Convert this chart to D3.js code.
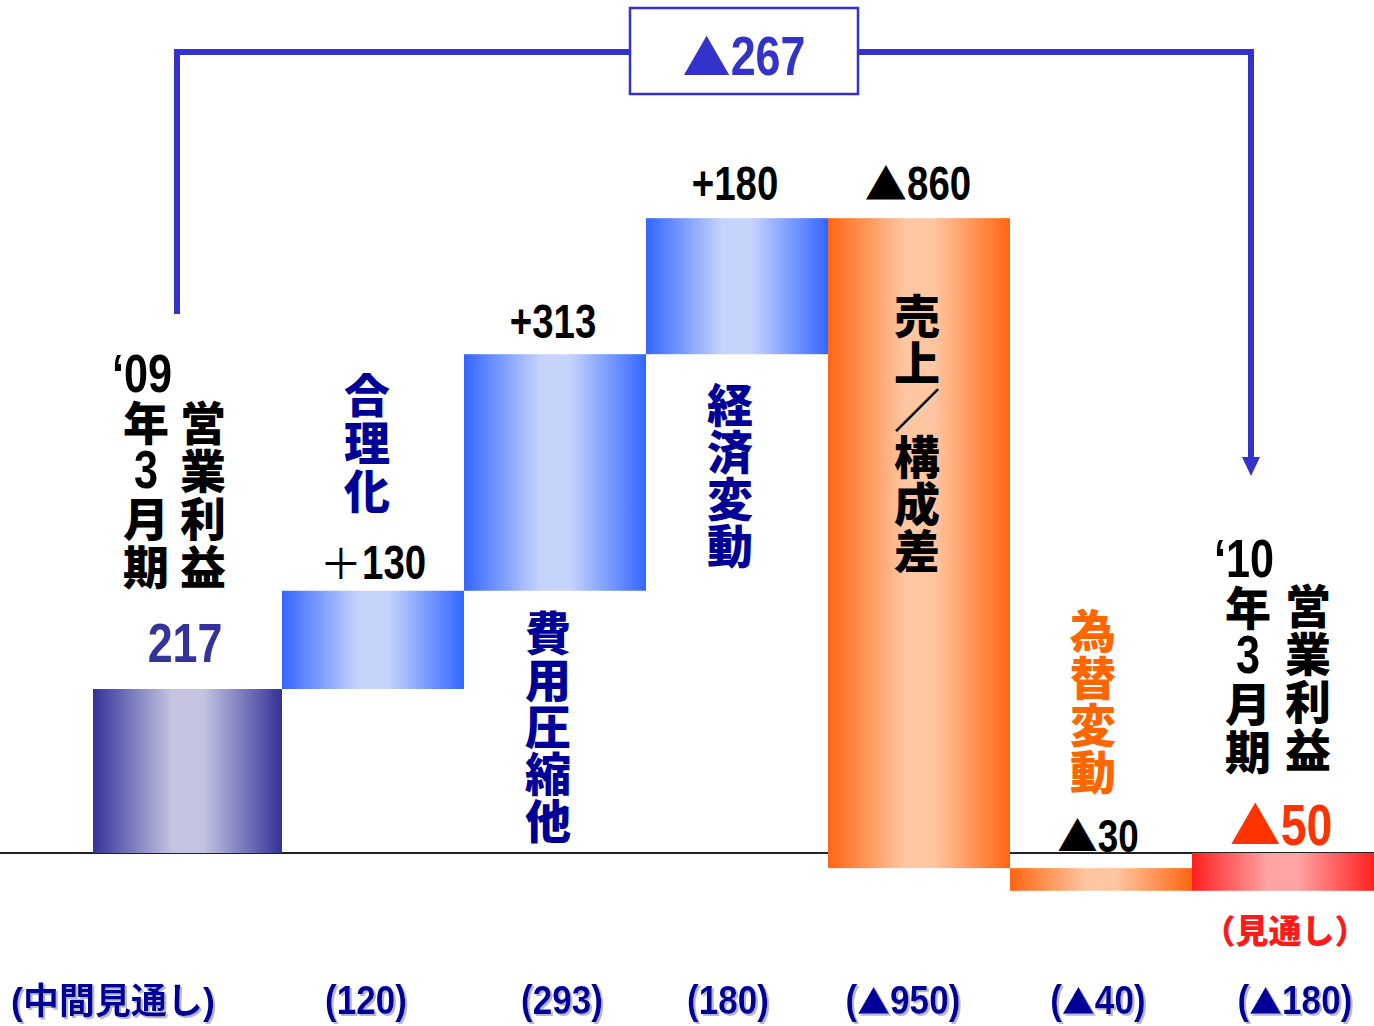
<!DOCTYPE html>
<html>
<head>
<meta charset="utf-8">
<script src="https://cdn.jsdelivr.net/npm/d3@7"></script>
<style>
  html, body { margin: 0; padding: 0; background: #fff; }
  svg { display: block; }
  .num { font-family: 'Liberation Sans', Arial, sans-serif; }
  .jp { font-family: 'Noto Sans CJK JP', sans-serif; font-weight: 900; }
</style>
</head>
<body>
<svg id="chart" width="1374" height="1026"></svg>
<script>
"use strict";

// --- data -------------------------------------------------------------
const categories = ['‘09年3月期営業利益', '合理化', '費用圧縮他', '経済変動', '売上／構成差', '為替変動', '‘10年3月期営業利益'];
const kinds = ['total', 'delta', 'delta', 'delta', 'delta', 'delta', 'total'];
const values = [217, 130, 313, 180, -860, -30, -50];
const valueLabels = ['217', '＋130', '+313', '+180', '▲860', '▲30', '▲50'];
const interimLabels = ['(中間見通し)', '(120)', '(293)', '(180)', '(▲950)', '(▲40)', '(▲180)'];
const changeLabel = '▲267';
const forecastNote = '（見通し）';

// --- layout -----------------------------------------------------------
const W = 1374, H = 1026;
const svg = d3.select('#chart');

const x = d3.scaleBand().domain(d3.range(categories.length)).range([100, 1374]).padding(0);
const y = d3.scaleLinear().domain([0, 217]).range([853, 689]);
const cx = (i) => x(i) + x.bandwidth() / 2;

// running totals for waterfall
let run = 0;
const bars = values.map((v, i) => {
  let from, to;
  if (kinds[i] === 'total') { from = 0; to = v; run = v; }
  else { from = run; to = run + v; run = to; }
  return { i, from, to, v, kind: kinds[i] };
});

// gradients
const defs = svg.append('defs');
const grads = {
  navy: ['#333399', '#c4c4e2'],
  blue: ['#3366ff', '#c6d4fc'],
  orange: ['#ff6611', '#ffc6a2'],
  red: ['#ff1f1f', '#ffa4a4']
};
Object.entries(grads).forEach(([k, c]) => {
  const g = defs.append('linearGradient').attr('id', 'g-' + k).attr('x1', 0).attr('x2', 1).attr('y1', 0).attr('y2', 0);
  g.append('stop').attr('offset', 0).attr('stop-color', c[0]);
  g.append('stop').attr('offset', 0.42).attr('stop-color', c[1]);
  g.append('stop').attr('offset', 0.58).attr('stop-color', c[1]);
  g.append('stop').attr('offset', 1).attr('stop-color', c[0]);
});
defs.append('filter').attr('id', 'shadow')
  .append('feDropShadow')
  .attr('dx', 2).attr('dy', 2).attr('stdDeviation', 0.6)
  .attr('flood-color', '#b8b8cc').attr('flood-opacity', 1);

const fillOf = (d) => {
  if (d.i === 0) return 'url(#g-navy)';
  if (d.kind === 'total') return 'url(#g-red)';
  return d.v >= 0 ? 'url(#g-blue)' : 'url(#g-orange)';
};

// baseline
svg.append('line')
  .attr('x1', 0).attr('x2', W)
  .attr('y1', y(0)).attr('y2', y(0))
  .attr('stroke', '#222').attr('stroke-width', 2);

// bars
svg.append('g').selectAll('rect').data(bars).join('rect')
  .attr('x', (d) => x(d.i) - (d.i === 0 ? 7 : 0))
  .attr('width', (d) => x.bandwidth() + (d.i === 0 ? 7 : 0))
  .attr('y', (d) => y(Math.max(d.from, d.to)))
  .attr('height', (d) => Math.abs(y(d.from) - y(d.to)))
  .attr('fill', fillOf);

// narrow numeric label: latin runs squeezed with textLength, symbols from the CJK font
function numText(parent, str, px, py, size, color, sx, symScale) {
  const t = parent.append('text')
    .attr('class', 'num')
    .attr('x', px).attr('y', py)
    .attr('text-anchor', 'middle')
    .attr('font-size', size)
    .attr('font-weight', 700)
    .attr('fill', color);
  str.split(/(▲|＋)/).filter((s) => s.length).forEach((part) => {
    const sp = t.append('tspan').text(part);
    if (part === '▲' || part === '＋') {
      sp.attr('font-family', "'Noto Sans CJK JP', sans-serif")
        .attr('font-weight', 400)
        .attr('font-size', size * symScale);
    } else if (/^[0-9+()]+$/.test(part)) {
      const w = sp.node().getComputedTextLength();
      sp.attr('textLength', w * sx).attr('lengthAdjust', 'spacingAndGlyphs');
    }
  });
  return t;
}

// value labels
const labelStyle = [
  { size: 56, color: '#333399', gap: 27, dx: -6 },
  { size: 48, color: '#000', gap: 12, dx: 0 },
  { size: 48, color: '#000', gap: 16, dx: -2 },
  { size: 48, color: '#000', gap: 18, dx: -2 },
  { size: 48, color: '#000', gap: 18, dx: -1 },
  { size: 46, color: '#000', gap: 16, dx: -3 },
  { size: 58, color: '#ff3300', gap: 8, dx: -2 }
];
const valueG = svg.append('g');
bars.forEach((d) => {
  const s = labelStyle[d.i];
  numText(valueG, valueLabels[d.i], cx(d.i) + s.dx, y(Math.max(d.from, d.to)) - s.gap,
    s.size, s.color, 0.8, 0.88);
});

// vertical category labels: one text per column, one tspan per character
function vcol(tokens, colX, top, color, pitch) {
  const t = svg.append('text')
    .attr('text-anchor', 'middle')
    .attr('fill', color);
  tokens.forEach((ch, k) => {
    const isNum = /[0-9‘]/.test(ch);
    const sp = t.append('tspan')
      .attr('class', isNum ? 'num' : 'jp')
      .attr('x', colX + (ch.length > 1 ? -4 : 0))
      .attr('y', top + k * pitch + 40)
      .attr('font-size', isNum ? 54 : 46)
      .attr('font-weight', isNum ? 700 : 900)
      .text(ch);
    if (isNum) {
      sp.attr('textLength', sp.node().getComputedTextLength() * 0.8).attr('lengthAdjust', 'spacingAndGlyphs');
    }
  });
}
const splitPeriod = (s) => [s.slice(0, 3), s[3], s[4], s[5], s[6]];
vcol(splitPeriod(categories[0]), 146, 352, '#000', 48);
vcol(categories[0].slice(7).split(''), 203, 400, '#000', 48);
vcol(categories[1].split(''), 367, 372, '#000099', 48);
vcol(categories[2].split(''), 548, 610, '#000099', 47);
vcol(categories[3].split(''), 730, 382, '#000099', 47);
vcol(categories[4].split(''), 917, 293, '#000', 47);
vcol(categories[5].split(''), 1093, 608, '#ff6600', 47);
vcol(splitPeriod(categories[6]), 1248, 537, '#000', 48);
vcol(categories[6].slice(7).split(''), 1308, 583, '#000', 48);

// forecast note
svg.append('text').attr('class', 'jp')
  .attr('x', cx(6) + 2).attr('y', 943)
  .attr('text-anchor', 'middle').attr('font-size', 33).attr('fill', '#ff1a1a')
  .text(forecastNote);

// interim forecast row
const rowY = 1014;
const rowCenters = [113, 366, 562, 728, 903, 1098, 1295];
const row = svg.append('g').attr('filter', 'url(#shadow)');
interimLabels.forEach((lab, i) => {
  if (i === 0) {
    row.append('text')
      .attr('x', rowCenters[i]).attr('y', rowY)
      .attr('text-anchor', 'middle')
      .attr('font-size', 36).attr('font-weight', 700)
      .attr('font-family', "'Liberation Sans', 'Noto Sans CJK JP', sans-serif")
      .attr('fill', '#000099')
      .text(lab);
  } else {
    numText(row, lab, rowCenters[i], rowY, 40, '#000099', 0.88, 0.82);
  }
});

// change bracket from '09 to '10
const blue = '#3333cc';
const bx0 = 177, bx1 = 1251, by = 52;
const bracket = svg.append('g').attr('fill', 'none').attr('stroke', blue).attr('stroke-width', 6);
bracket.append('path').attr('d', `M${bx0},314 V${by} H630`);
bracket.append('path').attr('d', `M858,${by} H${bx1} V458`);
svg.append('path').attr('d', `M${bx1 - 9},457 L${bx1 + 9},457 L${bx1},476 Z`).attr('fill', blue);
svg.append('rect').attr('x', 630).attr('y', 8).attr('width', 228).attr('height', 86)
  .attr('fill', '#fff').attr('stroke', blue).attr('stroke-width', 2.5);
numText(svg, changeLabel, 744, 75, 56, blue, 0.8, 0.86);
</script>
</body>
</html>
